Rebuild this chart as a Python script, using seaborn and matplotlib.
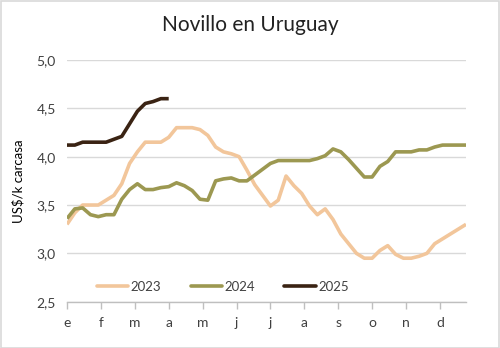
import numpy as np
import pandas as pd
import matplotlib
matplotlib.use("Agg")
import matplotlib.pyplot as plt
import seaborn as sns
from matplotlib.patches import Rectangle

# ---- data (weekly prices, US$/kg carcass) ----
months = ["e", "f", "m", "a", "m", "j", "j", "a", "s", "o", "n", "d"]
years = ["2023", "2024", "2025"]

v2023 = [3.30, 3.42, 3.50, 3.50, 3.50, 3.55, 3.60, 3.72, 3.93, 4.05,
         4.15, 4.15, 4.15, 4.20, 4.30, 4.30, 4.30, 4.28, 4.22, 4.10,
         4.05, 4.03, 4.00, 3.86, 3.71, 3.60, 3.49, 3.55, 3.80, 3.70,
         3.62, 3.49, 3.40, 3.46, 3.35, 3.20, 3.10, 3.00, 2.95, 2.95,
         3.03, 3.08, 2.99, 2.95, 2.95, 2.97, 3.00, 3.10, 3.15, 3.20,
         3.25, 3.30]
v2024 = [3.36, 3.46, 3.47, 3.40, 3.38, 3.40, 3.40, 3.56, 3.66, 3.72,
         3.66, 3.66, 3.68, 3.69, 3.73, 3.70, 3.65, 3.56, 3.55, 3.75,
         3.77, 3.78, 3.75, 3.75, 3.81, 3.87, 3.93, 3.96, 3.96, 3.96,
         3.96, 3.96, 3.98, 4.01, 4.08, 4.05, 3.97, 3.88, 3.79, 3.79,
         3.90, 3.95, 4.05, 4.05, 4.05, 4.07, 4.07, 4.10, 4.12, 4.12,
         4.12, 4.12]
v2025 = [4.12, 4.12, 4.15, 4.15, 4.15, 4.15, 4.18, 4.21, 4.34, 4.47,
         4.55, 4.57, 4.60, 4.60]

colors = ["#F2C69B", "#9C9851", "#3A2313"]

rows = []
for y, vals in zip(years, [v2023, v2024, v2025]):
    for w, v in enumerate(vals):
        rows.append({"week": w, "value": v, "year": y})
df = pd.DataFrame(rows)

# ---- figure ----
sns.set_theme(style="white")
plt.rcParams["font.family"] = ["Lato", "DejaVu Sans"]

fig = plt.figure(figsize=(5.0, 3.48), dpi=100)
ax = fig.add_axes([0.134, 0.133, 0.798, 0.6946])

sns.lineplot(data=df, x="week", y="value", hue="year", hue_order=years,
             palette=colors, linewidth=2.6, ax=ax, legend=False,
             solid_capstyle="butt", solid_joinstyle="round")

ax.set_xlim(0, 51)
ax.set_ylim(2.5, 5.0)
yt = np.arange(2.5, 5.01, 0.5)
ax.set_yticks(yt)
ax.set_yticklabels([f"{t:.1f}".replace(".", ",") for t in yt],
                   fontsize=10, color="#404040")
ax.set_xticks([i * 52 / 12 for i in range(12)])
ax.set_xticklabels(months, fontsize=10, color="#404040")

ax.yaxis.grid(True, color="#D9D9D9", linewidth=1.0)
ax.set_axisbelow(True)
for s in ["top", "right", "left"]:
    ax.spines[s].set_visible(False)
ax.spines["bottom"].set_color("#BFBFBF")
ax.spines["bottom"].set_linewidth(1.0)
ax.tick_params(axis="x", which="major", direction="out", length=5, width=1,
               color="#BFBFBF", pad=6, bottom=True)
ax.tick_params(axis="y", length=0, pad=8)

ax.set_xlabel("")
ax.set_ylabel("US$/k carcasa", fontsize=9.5, color="#000000", labelpad=9)

fig.suptitle("Novillo en Uruguay", fontsize=15, color="#222222", y=0.958)

handles = [plt.Line2D([0], [0], color=c, linewidth=2.6) for c in colors]
fig.legend(handles, years, loc="center", bbox_to_anchor=(0.446, 0.175),
           ncol=3, frameon=False, fontsize=9.5, handlelength=2.4,
           handletextpad=0.2, columnspacing=2.2, labelcolor="#404040")

fig.add_artist(Rectangle((0.001, 0.001), 0.997, 0.997, transform=fig.transFigure,
                         fill=False, edgecolor="#D9D9D9", linewidth=1.2))

fig.savefig("out.png", dpi=100)
